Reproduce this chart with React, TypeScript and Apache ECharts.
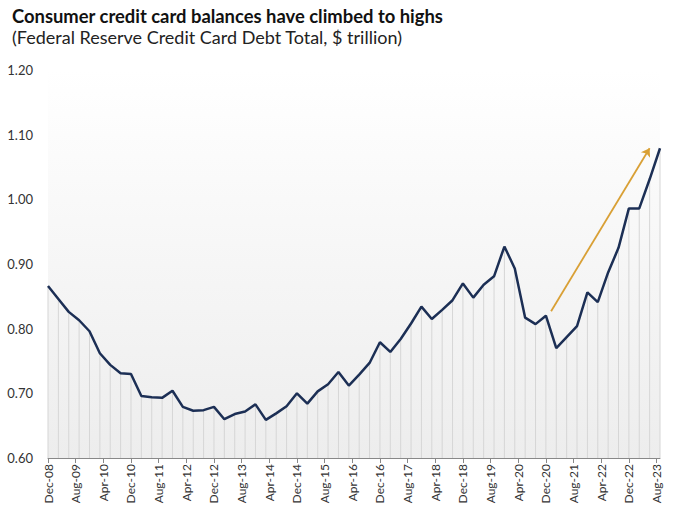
import React, { useEffect, useRef } from "react";
import * as echarts from "echarts";

const quarters: string[] = [
  "2008Q4",
  "2009Q1", "2009Q2", "2009Q3", "2009Q4",
  "2010Q1", "2010Q2", "2010Q3", "2010Q4",
  "2011Q1", "2011Q2", "2011Q3", "2011Q4",
  "2012Q1", "2012Q2", "2012Q3", "2012Q4",
  "2013Q1", "2013Q2", "2013Q3", "2013Q4",
  "2014Q1", "2014Q2", "2014Q3", "2014Q4",
  "2015Q1", "2015Q2", "2015Q3", "2015Q4",
  "2016Q1", "2016Q2", "2016Q3", "2016Q4",
  "2017Q1", "2017Q2", "2017Q3", "2017Q4",
  "2018Q1", "2018Q2", "2018Q3", "2018Q4",
  "2019Q1", "2019Q2", "2019Q3", "2019Q4",
  "2020Q1", "2020Q2", "2020Q3", "2020Q4",
  "2021Q1", "2021Q2", "2021Q3", "2021Q4",
  "2022Q1", "2022Q2", "2022Q3", "2022Q4",
  "2023Q1", "2023Q2", "2023Q3",
];

const balances: number[] = [
  0.866,
  0.846, 0.826, 0.813, 0.796,
  0.762, 0.744, 0.731, 0.730,
  0.696, 0.694, 0.693, 0.704,
  0.679, 0.673, 0.674, 0.679,
  0.660, 0.668, 0.672, 0.683,
  0.659, 0.669, 0.680, 0.700,
  0.684, 0.703, 0.714, 0.733,
  0.712, 0.729, 0.747, 0.779,
  0.764, 0.784, 0.808, 0.834,
  0.815, 0.829, 0.844, 0.870,
  0.848, 0.868, 0.881, 0.927,
  0.893, 0.817, 0.807, 0.820,
  0.770, 0.787, 0.804, 0.856,
  0.841, 0.887, 0.925, 0.986,
  0.986, 1.031, 1.079,
];

const tickLabels: string[] = [
  "Dec-08", "Aug-09", "Apr-10", "Dec-10", "Aug-11", "Apr-12", "Dec-12", "Aug-13",
  "Apr-14", "Dec-14", "Aug-15", "Apr-16", "Dec-16", "Aug-17", "Apr-18", "Dec-18",
  "Aug-19", "Apr-20", "Dec-20", "Aug-21", "Apr-22", "Dec-22", "Aug-23",
];

// trend arrow: [months since Dec-08, value]
const arrowStart: [number, number] = [145.5, 0.827];
const arrowEnd: [number, number] = [174, 1.079];

const MONTHS_PER_QUARTER = 3;
const MONTHS_PER_LABEL = 8;

export default function App() {
  const ref = useRef<HTMLDivElement>(null);

  useEffect(() => {
    if (!ref.current) return;
    const chart = echarts.init(ref.current, undefined, { renderer: "svg" });
    const pts = balances.map((v, i) => [i * MONTHS_PER_QUARTER, v]);
    const lastX = (quarters.length - 1) * MONTHS_PER_QUARTER;
    const tickVals = tickLabels.map((_, i) => i * MONTHS_PER_LABEL);
    const font = "Lato, 'Open Sans', sans-serif";

    chart.setOption({
      animation: false,
      title: {
        left: 7,
        top: 2,
        text: "Consumer credit card balances have climbed to highs",
        subtext: "(Federal Reserve Credit Card Debt Total, $ trillion)",
        itemGap: 3,
        textStyle: { fontFamily: font, fontSize: 18.4, fontWeight: "bold", color: "#111" },
        subtextStyle: { fontFamily: font, fontSize: 18, color: "#222" },
      },
      grid: {
        left: 48,
        right: 20,
        top: 70,
        bottom: 54,
        show: true,
        borderWidth: 0,
        backgroundColor: new echarts.graphic.LinearGradient(0, 0, 0, 1, [
          { offset: 0, color: "#ffffff" },
          { offset: 1, color: "#ededed" },
        ]),
      },
      xAxis: {
        type: "value",
        min: 0,
        max: lastX,
        interval: MONTHS_PER_LABEL,
        splitLine: { show: false },
        axisLine: { show: true, lineStyle: { color: "#888", width: 1 } },
        axisTick: { show: true, length: 5, lineStyle: { color: "#888" }, customValues: tickVals },
        axisLabel: {
          rotate: 90,
          fontFamily: font,
          fontSize: 12,
          color: "#333",
          margin: 6,
          customValues: tickVals,
          formatter: (v: number) => {
            const i = Math.round(v / MONTHS_PER_LABEL);
            return Math.abs(v - i * MONTHS_PER_LABEL) < 1e-6 ? tickLabels[i] || "" : "";
          },
        },
      },
      yAxis: {
        type: "value",
        min: 0.6,
        max: 1.2,
        interval: 0.1,
        splitLine: { show: false },
        axisLine: { show: false },
        axisTick: { show: false },
        axisLabel: {
          fontFamily: font,
          fontSize: 13,
          color: "#333",
          margin: 15,
          formatter: (v: number) => v.toFixed(2),
        },
      },
      series: [
        {
          type: "bar",
          data: pts,
          barWidth: 1,
          itemStyle: { color: "#d6d6d6" },
          silent: true,
          z: 1,
        },
        {
          type: "line",
          data: pts,
          symbol: "none",
          lineStyle: { color: "#1c2f55", width: 2.5 },
          z: 3,
          markLine: {
            silent: true,
            symbol: ["none", "arrow"],
            symbolSize: 8,
            label: { show: false },
            lineStyle: { color: "#d9a035", width: 1.8, type: "solid" },
            data: [[{ coord: arrowStart }, { coord: arrowEnd }]],
          },
        },
      ],
    });
    return () => chart.dispose();
  }, []);

  return (
    <div
      ref={ref}
      style={{ position: "absolute", left: 0, top: 0, width: 680, height: 512 }}
    />
  );
}
